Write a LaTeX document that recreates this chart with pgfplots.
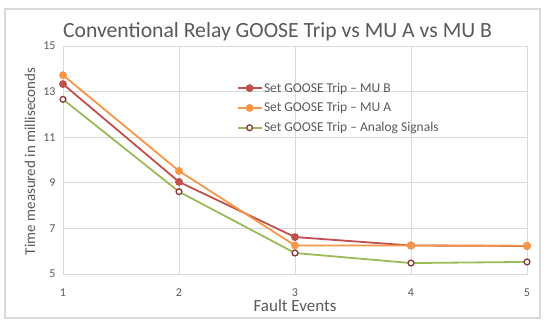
\documentclass[border=0pt]{standalone}
\usepackage{pgfplots}
\pgfplotsset{compat=1.18}
\usepackage{fontspec}
\setmainfont{Carlito}
\definecolor{txt}{HTML}{595959}
\definecolor{grd}{HTML}{D9D9D9}
\definecolor{sred}{HTML}{C0504D}
\definecolor{sorange}{HTML}{F79646}
\definecolor{sgreen}{HTML}{9BBB59}
\definecolor{mdark}{HTML}{8B3431}
\begin{document}
\begin{tikzpicture}[x=1bp,y=1bp]
\path[use as bounding box] (0,0) rectangle (550,327);
\draw[grd, line width=1.2bp] (5,9) rectangle (540,318);
\node[txt, font=\fontsize{21.7bp}{25bp}\selectfont, anchor=base] at (277.5,290) {Conventional Relay GOOSE Trip vs MU A vs MU B};
\begin{axis}[
  at={(63bp,53bp)}, anchor=south west,
  scale only axis, width=464bp, height=228bp,
  xmin=1, xmax=5, ymin=5, ymax=15,
  xtick={1,2,3,4,5}, ytick={5,7,9,11,13,15},
  grid=major, major grid style={grd, line width=0.8bp},
  axis line style={grd, line width=0.8bp},
  tick style={draw=none},
  /pgf/number format/assume math mode=true,
  ticklabel style={txt, font=\fontsize{12bp}{13bp}\selectfont},
  xticklabel style={yshift=-11bp},
  yticklabel style={xshift=-4bp},
  xlabel={Fault Events}, ylabel={Time measured in milliseconds},
  xlabel style={txt, font=\fontsize{17bp}{19bp}\selectfont, at={(axis description cs:0.5,0)}, anchor=center, yshift=-32bp},
  ylabel style={txt, font=\fontsize{15bp}{17bp}\selectfont, at={(axis description cs:-0.071,0.494)}, anchor=center},
  legend style={draw=none, fill=none, at={(axis cs:2.47,13.55)}, anchor=north west, font=\fontsize{13.5bp}{15bp}\selectfont, text=txt, row sep=6bp, nodes={inner sep=1.5bp}},
  legend cell align=left,
  legend image code/.code={\draw[#1] (0bp,0bp) -- (24bp,0bp); \draw[#1, only marks] plot coordinates {(12bp,0bp)};},
  clip=false,
]
\addplot[sred, line width=1.8bp, mark=*, mark size=3bp, mark options={fill=sred, draw=sred}] coordinates {(1,13.33) (2,9.04) (3,6.62) (4,6.25) (5,6.23)};
\addlegendentry{Set GOOSE Trip -- MU B}
\addplot[sorange, line width=1.8bp, mark=*, mark size=3bp, mark options={fill=sorange, draw=sorange}] coordinates {(1,13.72) (2,9.52) (3,6.25) (4,6.25) (5,6.24)};
\addlegendentry{Set GOOSE Trip -- MU A}
\addplot[sgreen, line width=1.8bp, mark=*, mark size=2.9bp, mark options={fill=white, draw=mdark, line width=1.3bp}] coordinates {(1,12.66) (2,8.61) (3,5.92) (4,5.48) (5,5.53)};
\addlegendentry{Set GOOSE Trip -- Analog Signals}
\end{axis}
\end{tikzpicture}
\end{document}
